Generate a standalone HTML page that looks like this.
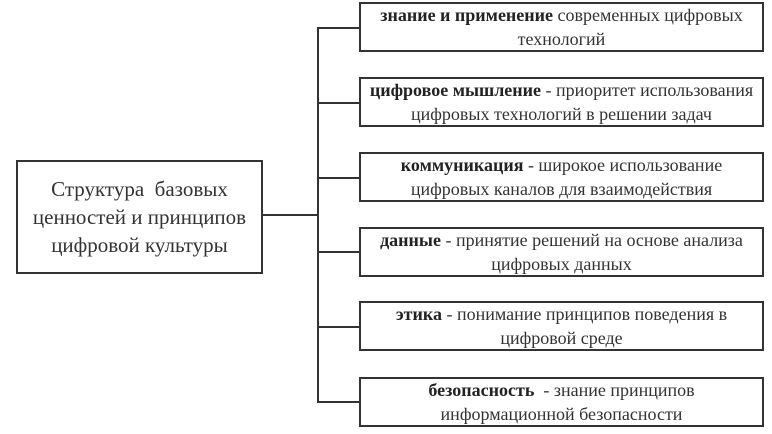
<!DOCTYPE html>
<html><head><meta charset="utf-8"><style>
html,body{margin:0;padding:0;background:#fff;}
body{width:772px;height:434px;position:relative;overflow:hidden;font-family:"Liberation Serif",serif;color:#333;}
.b{position:absolute;border:2px solid #333;box-sizing:border-box;background:#fff;display:flex;align-items:center;justify-content:center;text-align:center;}
.r{left:359px;width:405px;height:50px;font-size:18px;line-height:24px;white-space:nowrap;}
.r b{color:#222;}
.l{position:absolute;background:#333;}
</style></head><body>
<div class="b" style="left:16px;top:160px;width:247px;height:114px;font-size:21px;line-height:28px;">Структура&nbsp; базовых<br>ценностей и принципов<br>цифровой культуры</div>
<div class="l" style="left:263px;top:214px;width:56px;height:2px;"></div>
<div class="l" style="left:317px;top:27px;width:2px;height:376px;"></div>
<div class="l" style="left:317px;top:27px;width:42px;height:2px;"></div>
<div class="l" style="left:317px;top:102px;width:42px;height:2px;"></div>
<div class="l" style="left:317px;top:177px;width:42px;height:2px;"></div>
<div class="l" style="left:317px;top:251px;width:42px;height:2px;"></div>
<div class="l" style="left:317px;top:326px;width:42px;height:2px;"></div>
<div class="l" style="left:317px;top:401px;width:42px;height:2px;"></div>
<div class="b r" style="top:2px;"><div><b>знание и применение</b> современных цифровых<br>технологий</div></div>
<div class="b r" style="top:77px;"><div><b>цифровое мышление</b> - приоритет использования<br>цифровых технологий в решении задач</div></div>
<div class="b r" style="top:152px;"><div><b>коммуникация</b> - широкое использование<br>цифровых каналов для взаимодействия</div></div>
<div class="b r" style="top:227px;"><div><b>данные</b> - принятие решений на основе анализа<br>цифровых данных</div></div>
<div class="b r" style="top:301px;"><div><b>этика</b> - понимание принципов поведения в<br>цифровой среде</div></div>
<div class="b r" style="top:377px;"><div><b>безопасность</b>&nbsp; - знание принципов<br>информационной безопасности</div></div>
</body></html>
